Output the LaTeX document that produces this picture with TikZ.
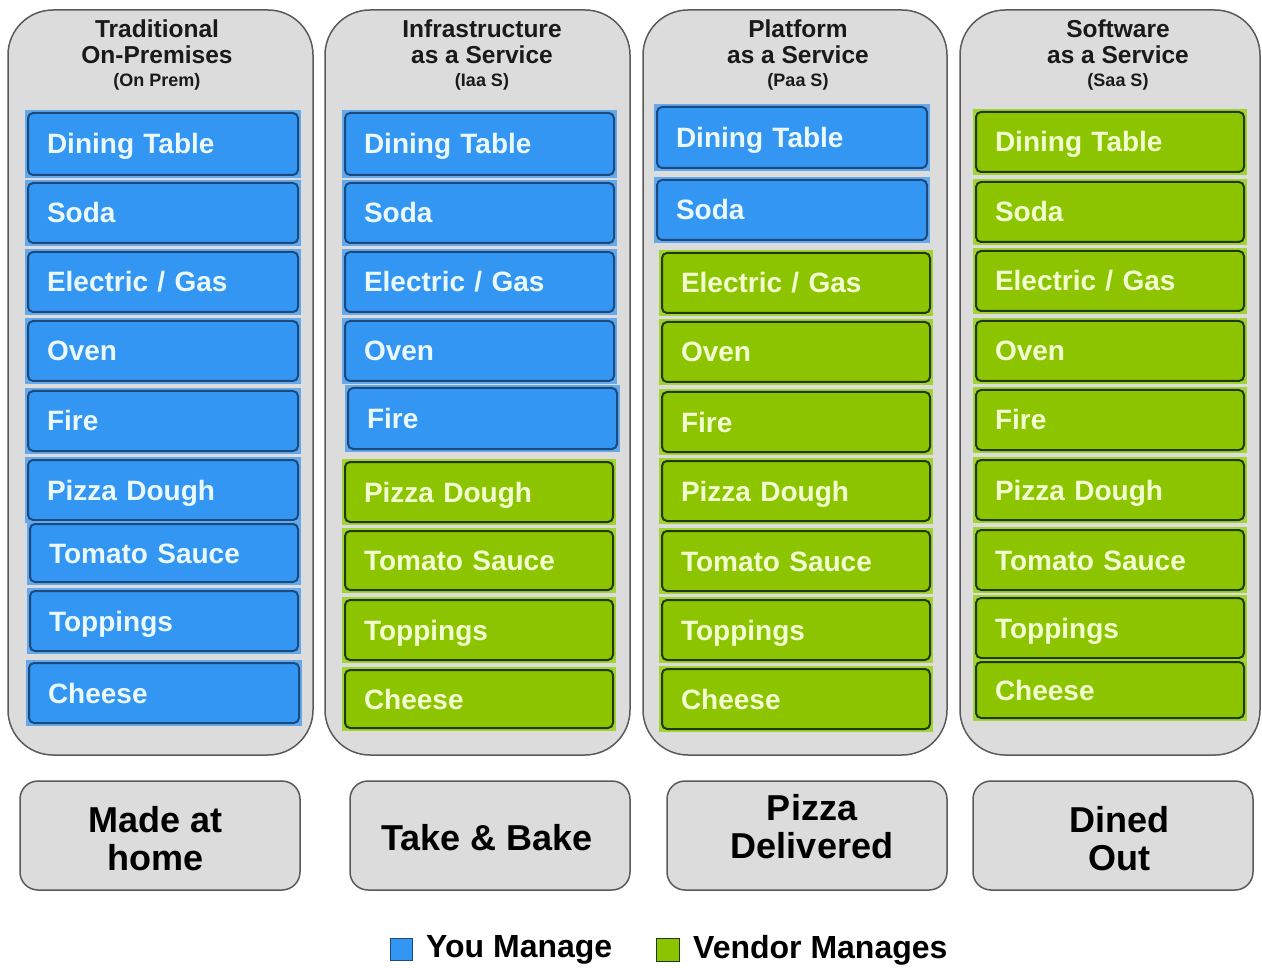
\documentclass[tikz,border=0pt]{standalone}
\usepackage{fontspec}
\setmainfont{Liberation Sans}
\definecolor{colfill}{HTML}{DCDCDC}
\definecolor{coledge}{HTML}{5A5A5A}
\definecolor{bfill}{HTML}{3396F2}
\definecolor{bedge}{HTML}{1C4A7E}
\definecolor{bhalo}{HTML}{63A9EC}
\definecolor{gfill}{HTML}{8CC400}
\definecolor{gedge}{HTML}{1F3A05}
\definecolor{ghalo}{HTML}{A3D332}
\definecolor{btext}{HTML}{EAF8FF}
\definecolor{gtext}{HTML}{F2FFD0}
\definecolor{headcol}{HTML}{1A1A1A}
\tikzset{
  colbox/.style={rounded corners=45pt, fill=colfill, draw=coledge, line width=1.5pt},
  headtxt/.style={align=center, font=\bfseries\fontsize{24.5}{26}\selectfont, inner sep=0pt, text=headcol},
  itemb/.style={rounded corners=5pt, fill=bfill, draw=bedge, line width=2pt, text=btext,
    font=\bfseries\fontsize{28}{30}\selectfont, inner xsep=19pt, inner ysep=0pt, align=left,
    text height=22pt, text depth=2pt},
  itemg/.style={rounded corners=5pt, fill=gfill, draw=gedge, line width=2pt, text=gtext,
    font=\bfseries\fontsize{28}{30}\selectfont, inner xsep=19pt, inner ysep=0pt, align=left,
    text height=22pt, text depth=2pt},
  bottombox/.style={rounded corners=18pt, fill=colfill, draw=coledge, line width=1.5pt,
    minimum width=280pt, minimum height=109pt},
  bottomtxt/.style={font=\bfseries\fontsize{36}{38}\selectfont, align=center, inner sep=0pt},
  legtxt/.style={font=\bfseries\fontsize{32}{34}\selectfont, anchor=west, inner sep=0pt}
}
\newcommand\itm[7]{%
  \pgfmathsetmacro\iw{#4-#2}%
  \pgfmathsetmacro\ih{#5-#3}%
  \pgfmathsetmacro\tw{#4-#2-38}%
  \pgfmathsetmacro\icx{(#2+#4)/2}%
  \pgfmathsetmacro\icy{(#3+#5)/2}%
  \fill[#6halo] (#2-3,#3-3) rectangle (#4+3,#5+3);
  \node[item#6, minimum width=\iw pt, minimum height=\ih pt, text width=\tw pt] (#1) at (\icx,\icy) {#7};
}
\newcommand\subhead[1]{{\fontsize{18}{20}\selectfont #1}}
\begin{document}
\begin{tikzpicture}[x=1pt,y=-1pt]
\useasboundingbox[fill=white] (0,0) rectangle (1262,968);

% columns
\node[colbox, minimum width=305pt, minimum height=745pt] (c1) at (160.5,382.5) {};
\node[colbox, minimum width=305pt, minimum height=745pt] (c2) at (477.5,382.5) {};
\node[colbox, minimum width=304pt, minimum height=745pt] (c3) at (795,382.5) {};
\node[colbox, minimum width=300pt, minimum height=745pt] (c4) at (1110,382.5) {};

% headers
\node[headtxt, anchor=north] (h1) at (157,20) {Traditional\\On-Premises\\[-3pt]\subhead{(On Prem)}};
\node[headtxt, anchor=north] (h2) at (482,20) {Infrastructure\\as a Service\\[-3pt]\subhead{(Iaa S)}};
\node[headtxt, anchor=north] (h3) at (798,20) {Platform\\as a Service\\[-3pt]\subhead{(Paa S)}};
\node[headtxt, anchor=north] (h4) at (1118,20) {Software\\as a Service\\[-3pt]\subhead{(Saa S)}};

% column 1
\itm{a1}{28}{113}{298}{175}{b}{Dining Table}
\itm{a2}{28}{183}{298}{243}{b}{Soda}
\itm{a3}{28}{252}{298}{312}{b}{Electric / Gas}
\itm{a4}{28}{321}{298}{381}{b}{Oven}
\itm{a5}{28}{391}{298}{451}{b}{Fire}
\itm{a6}{28}{460}{298}{520}{b}{Pizza Dough}
\itm{a7}{30}{524}{298}{582}{b}{Tomato Sauce}
\itm{a8}{30}{591}{298}{651}{b}{Toppings}
\itm{a9}{29}{663}{299}{723}{b}{Cheese}

% column 2
\itm{b1}{345}{113}{614}{175}{b}{Dining Table}
\itm{b2}{345}{183}{614}{243}{b}{Soda}
\itm{b3}{345}{252}{614}{312}{b}{Electric / Gas}
\itm{b4}{345}{321}{614}{381}{b}{Oven}
\itm{b5}{348}{388}{617}{449}{b}{Fire}
\itm{b6}{345}{462}{613}{522}{g}{Pizza Dough}
\itm{b7}{345}{531}{613}{590}{g}{Tomato Sauce}
\itm{b8}{345}{600}{613}{660}{g}{Toppings}
\itm{b9}{345}{670}{613}{728}{g}{Cheese}

% column 3
\itm{d1}{657}{107}{927}{168}{b}{Dining Table}
\itm{d2}{657}{180}{927}{240}{b}{Soda}
\itm{d3}{662}{253}{930}{313}{g}{Electric / Gas}
\itm{d4}{662}{322}{930}{382}{g}{Oven}
\itm{d5}{662}{392}{930}{452}{g}{Fire}
\itm{d6}{662}{461}{930}{521}{g}{Pizza Dough}
\itm{d7}{662}{531}{930}{591}{g}{Tomato Sauce}
\itm{d8}{662}{600}{930}{660}{g}{Toppings}
\itm{d9}{662}{669}{930}{729}{g}{Cheese}

% column 4
\itm{e1}{976}{112}{1244}{172}{g}{Dining Table}
\itm{e2}{976}{182}{1244}{242}{g}{Soda}
\itm{e3}{976}{251}{1244}{311}{g}{Electric / Gas}
\itm{e4}{976}{321}{1244}{381}{g}{Oven}
\itm{e5}{976}{390}{1244}{450}{g}{Fire}
\itm{e6}{976}{460}{1244}{520}{g}{Pizza Dough}
\itm{e7}{976}{530}{1244}{590}{g}{Tomato Sauce}
\itm{e8}{976}{598}{1244}{658}{g}{Toppings}
\itm{e9}{976}{662}{1244}{718}{g}{Cheese}

% bottom boxes
\node[bottombox] (m1) at (160,835.5) {};
\node[bottombox] (m2) at (490,835.5) {};
\node[bottombox] (m3) at (807,835.5) {};
\node[bottombox] (m4) at (1113,835.5) {};
\node[bottomtxt] (t1) at (156,839) {Made at\\home};
\node[bottomtxt] (t2) at (487,838) {Take \& Bake};
\node[bottomtxt] (t3) at (812,827) {Pizza\\Delivered};
\node[bottomtxt] (t4) at (1119,839) {Dined\\Out};

% legend
\node[fill=bfill, draw=bedge, line width=1pt, minimum size=22pt, inner sep=0pt] (lb) at (401,949) {};
\node[legtxt] (lbt) at (426,950) {You Manage};
\node[fill=gfill, draw=gedge, line width=1pt, minimum size=23pt, inner sep=0pt] (lg) at (667.5,949.5) {};
\node[legtxt] (lgt) at (693,950) {Vendor Manages};
\end{tikzpicture}
\end{document}
